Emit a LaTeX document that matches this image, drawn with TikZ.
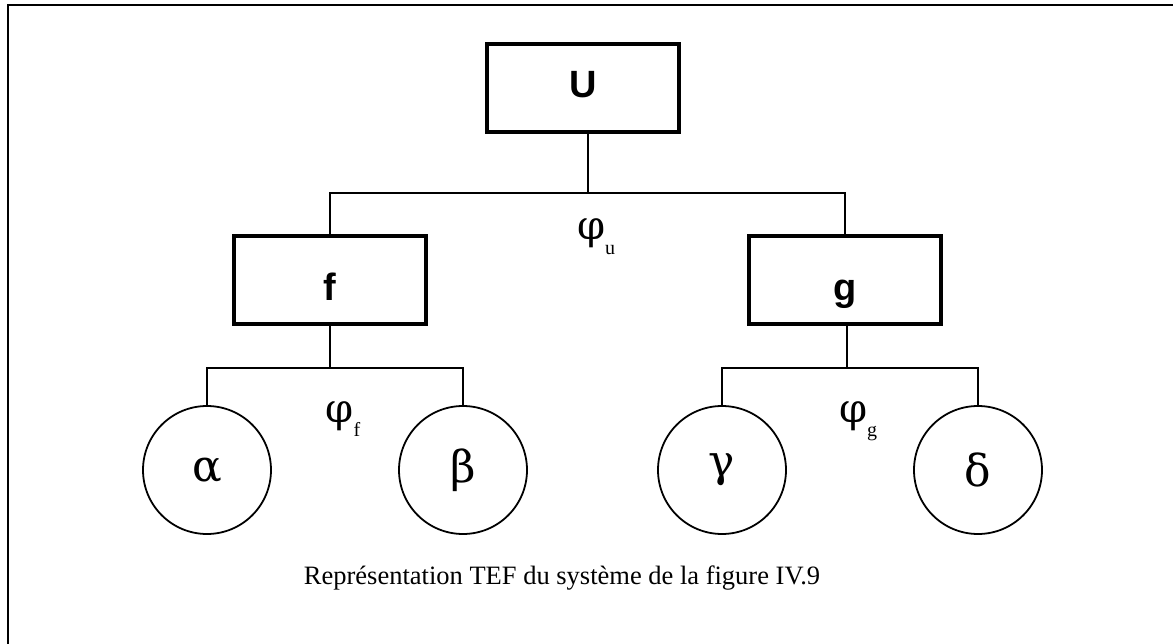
\documentclass[tikz,border=0pt]{standalone}
\usepackage{fontspec}
\setmainfont{Liberation Serif}
\newfontfamily\arialb{Liberation Sans}[BoldFont={* Bold}]
\newfontfamily\grk{DejaVu Serif}
\begin{document}
\begin{tikzpicture}[x=1pt,y=-1pt,
  box/.style={draw,line width=4.2pt,minimum width=192pt,minimum height=88pt,inner sep=0pt,
    text height=27pt,text depth=0pt,
    font=\arialb\bfseries\fontsize{38}{38}\selectfont},
  leaf/.style={draw,circle,line width=1.8pt,minimum size=128pt,inner sep=0pt,
    font=\grk\fontsize{44}{44}\selectfont},
  conn/.style={line width=1.8pt},
  phi/.style={inner sep=0pt,font=\grk\fontsize{40}{40}\selectfont},
  captext/.style={inner sep=0pt,font=\fontsize{26.5}{26.5}\selectfont}]
\useasboundingbox (0,0) rectangle (1173,644);
\draw[line width=2.2pt] (8,660) -- (8,5) -- (1190,5);
\node[box] (U) at (583,88) {\raisebox{4pt}{U}};
\node[box] (f) at (330,280) {\raisebox{-7pt}{f}};
\node[box] (g) at (845,280) {\raisebox{-7pt}{g}};
\node[leaf] (a) at (207,470) {α};
\node[leaf] (b) at (463,470) {β};
\node[leaf] (c) at (722,470) {γ};
\node[leaf] (d) at (978,470) {δ};
\coordinate (ju) at (588,193);
\coordinate (jf) at (330,368);
\coordinate (jg) at (847,368);
\draw[conn] (U.south -| ju) -- (ju);
\draw[conn] (f.north) |- (ju) -| (g.north);
\draw[conn] (f.south) -- (jf);
\draw[conn] (a.north) |- (jf) -| (b.north);
\draw[conn] (g.south -| jg) -- (jg);
\draw[conn] (c.north) |- (jg) -| (d.north);
\node[phi,anchor=base] (pu) at (596,240) {φ\raisebox{-0.36em}{\rmfamily\fontsize{20}{20}\selectfont u}};
\node[phi,anchor=base] (pf) at (343,422) {φ\raisebox{-0.36em}{\rmfamily\fontsize{20}{20}\selectfont f}};
\node[phi,anchor=base] (pg) at (858,422) {φ\raisebox{-0.36em}{\rmfamily\fontsize{20}{20}\selectfont g}};
\node[captext,anchor=base] (caption) at (562,584) {Représentation TEF du système de la figure IV.9};
\end{tikzpicture}
\end{document}
